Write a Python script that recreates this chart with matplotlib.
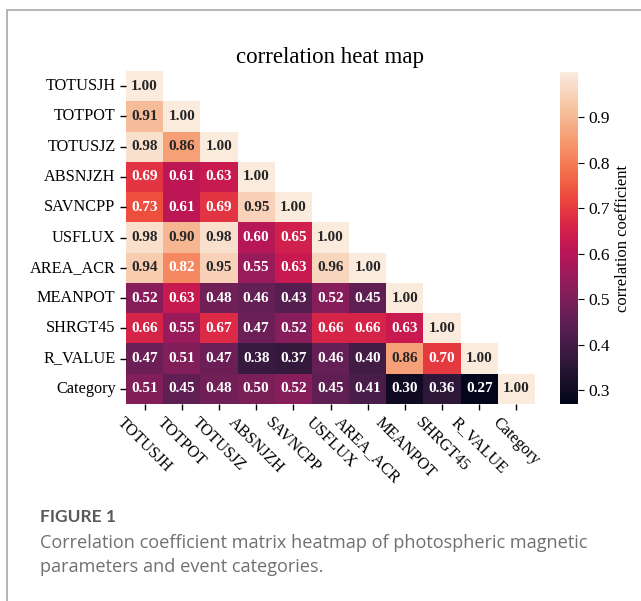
import matplotlib.pyplot as plt
import numpy as np
import seaborn as sns
from matplotlib.patches import Rectangle

# Параметри та нижній трикутник матриці кореляцій
params = ["TOTUSJH", "TOTPOT", "TOTUSJZ", "ABSNJZH", "SAVNCPP", "USFLUX",
          "AREA_ACR", "MEANPOT", "SHRGT45", "R_VALUE", "Category"]
lower_rows = [
    [],
    [0.91],
    [0.98, 0.86],
    [0.69, 0.61, 0.63],
    [0.73, 0.61, 0.69, 0.95],
    [0.98, 0.90, 0.98, 0.60, 0.65],
    [0.94, 0.82, 0.95, 0.55, 0.63, 0.96],
    [0.52, 0.63, 0.48, 0.46, 0.43, 0.52, 0.45],
    [0.66, 0.55, 0.67, 0.47, 0.52, 0.66, 0.66, 0.63],
    [0.47, 0.51, 0.47, 0.38, 0.37, 0.46, 0.40, 0.86, 0.70],
    [0.51, 0.45, 0.48, 0.50, 0.52, 0.45, 0.41, 0.30, 0.36, 0.27],
]
cbar_ticks = [0.3, 0.4, 0.5, 0.6, 0.7, 0.8, 0.9]

# Симетрична матриця з одиницями на діагоналі
n = len(params)
corr = np.eye(n)
for i, row in enumerate(lower_rows):
    for j, v in enumerate(row):
        corr[i, j] = v
        corr[j, i] = v
mask = np.triu(np.ones_like(corr, dtype=bool), k=1)

plt.rcParams['font.family'] = ['Liberation Serif', 'DejaVu Serif']

W, H = 641, 601
fig = plt.figure(figsize=(W / 100, H / 100), dpi=100)

# Рамка навколо рисунка
fig.patches.append(Rectangle((7 / W, -0.1), 1.0, 1 - 10 / H + 0.1,
                             transform=fig.transFigure, fill=False,
                             edgecolor="#a8a8a8", linewidth=1.2))

ax = fig.add_axes([126 / W, 1 - 404 / H, 409 / W, 333 / H])
cax = fig.add_axes([560 / W, 1 - 404 / H, 17.5 / W, 332 / H])

sns.heatmap(corr, mask=mask, ax=ax, cbar_ax=cax, cmap="rocket",
            vmin=corr.min(), vmax=1.0, annot=True, fmt=".2f",
            annot_kws={"fontsize": 11, "fontweight": "bold"},
            xticklabels=params, yticklabels=params,
            cbar_kws={"ticks": cbar_ticks})

ax.tick_params(axis="both", labelsize=11.7, length=4, width=1)
ax.set_xticklabels(params, rotation=-45)
ax.set_yticklabels(params, rotation=0)
ax.set_title("correlation heat map", fontsize=16.5, pad=6)

cax.tick_params(labelsize=12.5, length=4)
cax.set_ylabel("correlation coefficient", fontsize=12)

# Підпис рисунка
fig.text(40 / W, 1 - 517 / H, "FIGURE 1", fontsize=12.5, color="#5a5a5a",
         family="Lato", fontweight="bold", va="center")
fig.text(40 / W, 1 - 543 / H,
         "Correlation coefficient matrix heatmap of photospheric magnetic",
         fontsize=13.1, color="#707070", family="Open Sans", va="center")
fig.text(40 / W, 1 - 567 / H, "parameters and event categories.",
         fontsize=13.1, color="#707070", family="Open Sans", va="center")

fig.savefig("out.png", dpi=100, facecolor="white")
